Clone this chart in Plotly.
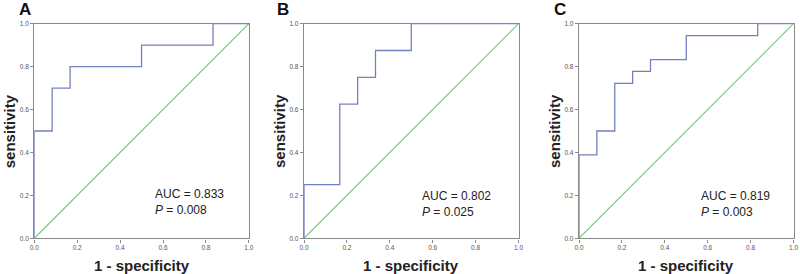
import plotly.graph_objects as go

# ROC step data (1 - specificity, sensitivity)
fpr_a = [0, 0, 0.0833, 0.0833, 0.1667, 0.1667, 0.5, 0.5, 0.8333, 0.8333, 1.0]
tpr_a = [0, 0.5, 0.5, 0.7, 0.7, 0.8, 0.8, 0.9, 0.9, 1.0, 1.0]

fpr_b = [0, 0, 0.1667, 0.1667, 0.25, 0.25, 0.3333, 0.3333, 0.5, 0.5, 1.0]
tpr_b = [0, 0.25, 0.25, 0.625, 0.625, 0.75, 0.75, 0.875, 0.875, 1.0, 1.0]

fpr_c = [0, 0, 0.0833, 0.0833, 0.1667, 0.1667, 0.25, 0.25, 0.3333, 0.3333, 0.5, 0.5, 0.8333, 0.8333, 1.0]
tpr_c = [0, 0.389, 0.389, 0.5, 0.5, 0.722, 0.722, 0.778, 0.778, 0.833, 0.833, 0.944, 0.944, 1.0, 1.0]

panel_labels = ["A", "B", "C"]
auc_values = ["0.833", "0.802", "0.819"]
p_values = ["0.008", "0.025", "0.003"]
tick_vals = [0.0, 0.2, 0.4, 0.6, 0.8, 1.0]
tick_text = ["0.0", "0.2", "0.4", "0.6", "0.8", "1.0"]

W, H = 800, 274
left_px = [34.3, 304.0, 579.0]
plot_w = 214.5
top_px, bot_px = 23.7, 238.3
text_x = [0.553, 0.539, 0.558]
text_y = [0.171, 0.160, 0.160]
label_off = [17, 29, 27]

ROC_COLOR = "#7480bd"
DIAG_COLOR = "#72c872"
FRAME = "#8a8a8a"
FONT = "Liberation Sans, Arial, sans-serif"

fig = go.Figure()
data = [(fpr_a, tpr_a), (fpr_b, tpr_b), (fpr_c, tpr_c)]

for i, (fx, ty) in enumerate(data):
    n = "" if i == 0 else str(i + 1)
    xa, ya = "x" + n, "y" + n
    fig.add_trace(go.Scatter(x=[0, 1], y=[0, 1], mode="lines",
                             line=dict(color=DIAG_COLOR, width=1.1),
                             xaxis=xa, yaxis=ya, showlegend=False, hoverinfo="skip"))
    fig.add_trace(go.Scatter(x=fx, y=ty, mode="lines",
                             line=dict(color=ROC_COLOR, width=1.3),
                             xaxis=xa, yaxis=ya, showlegend=False))
    x0 = left_px[i] / W
    x1 = (left_px[i] + plot_w) / W
    y0 = (H - bot_px) / H
    y1 = (H - top_px) / H
    ax_common = dict(range=[0, 1], tickvals=tick_vals, ticktext=tick_text,
                     ticks="outside", ticklen=3, tickwidth=1, tickcolor=FRAME,
                     tickfont=dict(size=6.5, color="#555555", family=FONT),
                     showgrid=False, zeroline=False, showline=True, linecolor=FRAME,
                     linewidth=1.4, mirror=True, fixedrange=True, automargin=False)
    fig.update_layout(**{
        ("xaxis" + n): dict(domain=[x0, x1], anchor=ya, **ax_common),
        ("yaxis" + n): dict(domain=[y0, y1], anchor=xa, **ax_common),
    })
    cx = (x0 + x1) / 2
    fig.add_annotation(x=(left_px[i] - label_off[i]) / W, y=1.0,
                       xref="paper", yref="paper", text="<b>%s</b>" % panel_labels[i],
                       showarrow=False, xanchor="left", yanchor="top",
                       font=dict(size=17, color="#111111", family=FONT), yshift=2)
    fig.add_annotation(x=cx, y=(H - 265) / H, xref="paper", yref="paper",
                       text="<b>1 - specificity</b>",
                       showarrow=False, xanchor="center", yanchor="middle",
                       font=dict(size=15, color="#222222", family=FONT))
    fig.add_annotation(x=(left_px[i] - 25) / W, y=(y0 + y1) / 2, xref="paper", yref="paper",
                       text="<b>sensitivity</b>", textangle=-90, showarrow=False,
                       xanchor="center", yanchor="middle",
                       font=dict(size=15, color="#222222", family=FONT))
    fig.add_annotation(x=text_x[i], y=text_y[i], xref=xa, yref=ya,
                       text="AUC = %s<br><i>P</i> = %s" % (auc_values[i], p_values[i]),
                       showarrow=False, xanchor="left", yanchor="middle", align="left",
                       font=dict(size=12, color="#222222", family=FONT))

fig.update_layout(width=W, height=H, margin=dict(l=0, r=0, t=0, b=0),
                  paper_bgcolor="white", plot_bgcolor="white",
                  font=dict(family=FONT))

fig.write_html("out.html", config={"displayModeBar": False},
               post_script="document.body.style.margin='0';document.body.style.overflow='hidden';")
